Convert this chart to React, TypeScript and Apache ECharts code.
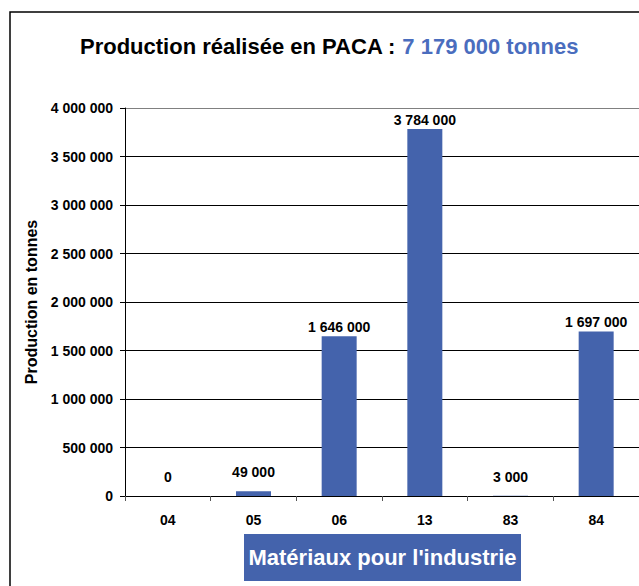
import React, { useEffect, useRef } from "react";
import * as echarts from "echarts";

const categories = ["04", "05", "06", "13", "83", "84"];
const production = [0, 49000, 1646000, 3784000, 3000, 1697000];
const yTicks = [0, 500000, 1000000, 1500000, 2000000, 2500000, 3000000, 3500000, 4000000];
const titleMain = "Production réalisée en PACA : ";
const titleTotal = "7 179 000 tonnes";
const yAxisName = "Production en tonnes";
const boxLabel = "Matériaux pour l'industrie";

const FONT = "'Liberation Sans', Arial, Helvetica, sans-serif";
const BAR = "#4463AC";

const fmt = (v: number) => String(v).replace(/\B(?=(\d{3})+(?!\d))/g, " ");

export default function App() {
  const ref = useRef<HTMLDivElement>(null);
  useEffect(() => {
    if (!ref.current) return;
    const chart = echarts.init(ref.current, undefined, { renderer: "svg" });
    const gridColors = yTicks.map((_, i) => (i === yTicks.length - 1 ? "#808080" : "#000000"));
    chart.setOption({
      animation: false,
      backgroundColor: "#ffffff",
      textStyle: { fontFamily: FONT },
      title: {
        text: titleMain + "{b|" + titleTotal + "}",
        left: 75,
        top: 30,
        textStyle: {
          fontFamily: FONT,
          fontSize: 22,
          fontWeight: "bold",
          color: "#000000",
          rich: {
            b: { fontFamily: FONT, fontSize: 22, fontWeight: "bold", color: "#4A6DBE" },
          },
        },
      },
      grid: { left: 125, top: 108, width: 515, bottom: 90, containLabel: false },
      xAxis: {
        type: "category",
        data: categories,
        axisLine: { lineStyle: { color: "#000000", width: 1 } },
        axisTick: { show: true, alignWithLabel: false, length: 5, lineStyle: { color: "#555555" } },
        axisLabel: { fontFamily: FONT, fontSize: 14, fontWeight: "bold", color: "#000000", margin: 17 },
      },
      yAxis: {
        type: "value",
        min: 0,
        max: 4000000,
        interval: 500000,
        name: yAxisName,
        nameLocation: "middle",
        nameGap: 80,
        nameTextStyle: { fontFamily: FONT, fontSize: 16, fontWeight: "bold", color: "#000000" },
        axisLine: { show: true, lineStyle: { color: "#000000", width: 1 } },
        axisTick: { show: true, length: 5, lineStyle: { color: "#000000" } },
        axisLabel: {
          fontFamily: FONT,
          fontSize: 14,
          fontWeight: "bold",
          color: "#000000",
          margin: 12,
          formatter: (v: number) => fmt(v),
        },
        splitLine: { show: true, lineStyle: { color: gridColors, width: 1 } },
      },
      series: [
        {
          type: "bar",
          barWidth: 35,
          itemStyle: { color: BAR },
          data: production.map((v) => ({
            value: v,
            label: { distance: v < 100000 ? 12 : 2 },
          })),
          label: {
            show: true,
            position: "top",
            fontFamily: FONT,
            fontSize: 14,
            fontWeight: "bold",
            color: "#000000",
            formatter: (p: any) => fmt(p.value),
          },
        },
      ],
      graphic: [
        {
          type: "rect",
          shape: { x: 10, y: 12, width: 800, height: 800 },
          style: { fill: "none", stroke: "#000000", lineWidth: 1.5 },
          silent: true,
          z: 100,
        },
        {
          type: "rect",
          shape: { x: 244, y: 534, width: 277, height: 47 },
          style: { fill: BAR },
          z: 100,
        },
        {
          type: "text",
          x: 382.5,
          y: 557,
          style: {
            text: boxLabel,
            fill: "#ffffff",
            font: "bold 22px " + FONT,
            textAlign: "center",
            textVerticalAlign: "middle",
          },
          z: 101,
        },
      ],
    });
    return () => chart.dispose();
  }, []);
  return (
    <div
      ref={ref}
      style={{ position: "fixed", left: 0, top: 0, width: 639, height: 586, overflow: "hidden" }}
    />
  );
}
